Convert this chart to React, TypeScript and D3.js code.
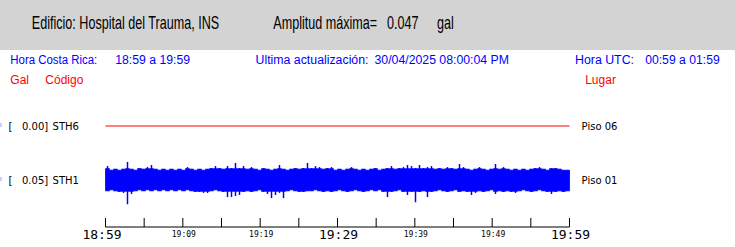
import React from "react";
import * as d3 from "d3";

// ---- data ----
const stations = ["STH6", "STH1"];
const stationGal = ["0.00", "0.05"];
const stationPlace = ["Piso 06", "Piso 01"];
const tickLabels = ["18:59", "19:09", "19:19", "19:29", "19:39", "19:49", "19:59"];
const bigLabels = ["18:59", "19:29", "19:59"];
const startTime = new Date(2025, 3, 30, 18, 59, 0);
const endTime = new Date(2025, 3, 30, 19, 59, 0);
const tickStepMinutes = 5;

// STH6 trace (flat, gal)
const sth6Values = [0, 0];

// STH1 envelope, 116 bins over the hour (gal): upper and lower extremes
const sth1Max = [
  0.027, 0.019, 0.021, 0.019, 0.021, 0.035, 0.021, 0.019, 0.023, 0.021,
  0.025, 0.029, 0.021, 0.019, 0.021, 0.019, 0.021, 0.019, 0.021, 0.019,
  0.025, 0.021, 0.019, 0.021, 0.019, 0.021, 0.023, 0.027, 0.023, 0.021,
  0.027, 0.023, 0.033, 0.023, 0.027, 0.021, 0.025, 0.021, 0.019, 0.023,
  0.021, 0.019, 0.021, 0.029, 0.021, 0.019, 0.021, 0.023, 0.021, 0.023,
  0.033, 0.023, 0.027, 0.025, 0.021, 0.023, 0.025, 0.019, 0.021, 0.019,
  0.021, 0.025, 0.021, 0.019, 0.021, 0.019, 0.021, 0.023, 0.019, 0.021,
  0.023, 0.027, 0.021, 0.023, 0.025, 0.029, 0.027, 0.023, 0.029, 0.023,
  0.025, 0.027, 0.021, 0.023, 0.021, 0.025, 0.023, 0.021, 0.031, 0.025,
  0.021, 0.019, 0.021, 0.025, 0.021, 0.019, 0.021, 0.031, 0.021, 0.025,
  0.021, 0.019, 0.021, 0.019, 0.021, 0.019, 0.021, 0.023, 0.025, 0.021,
  0.019, 0.023, 0.023, 0.021, 0.019, 0.019,
];
const sth1Min = [
  -0.021, -0.019, -0.021, -0.023, -0.025, -0.047, -0.027, -0.021, -0.019, -0.021,
  -0.019, -0.021, -0.019, -0.021, -0.019, -0.021, -0.019, -0.021, -0.019, -0.021,
  -0.019, -0.021, -0.023, -0.023, -0.025, -0.025, -0.021, -0.019, -0.021, -0.023,
  -0.033, -0.033, -0.031, -0.029, -0.023, -0.021, -0.023, -0.021, -0.019, -0.023,
  -0.027, -0.035, -0.029, -0.025, -0.035, -0.021, -0.019, -0.021, -0.023, -0.023,
  -0.021, -0.021, -0.019, -0.021, -0.023, -0.021, -0.023, -0.021, -0.019, -0.021,
  -0.023, -0.021, -0.019, -0.021, -0.023, -0.021, -0.019, -0.021, -0.019, -0.023,
  -0.033, -0.023, -0.021, -0.019, -0.023, -0.029, -0.023, -0.043, -0.023, -0.021,
  -0.033, -0.023, -0.021, -0.019, -0.021, -0.023, -0.021, -0.019, -0.023, -0.021,
  -0.023, -0.029, -0.025, -0.021, -0.023, -0.021, -0.019, -0.027, -0.021, -0.023,
  -0.021, -0.023, -0.025, -0.021, -0.019, -0.021, -0.023, -0.021, -0.019, -0.021,
  -0.023, -0.027, -0.023, -0.021, -0.023, -0.021,
];
const maxAmplitude = 0.047;
const bandLimit = 0.022; // dense band level; excursions beyond drawn as thin spikes

const SANS = "'Liberation Sans', Arial, Helvetica, sans-serif";
const DEJA = "'DejaVu Sans', sans-serif";
const MONO = "'DejaVu Sans Mono', monospace";

export default function App() {
  const W = 735;
  const H = 247;
  const x = d3.scaleTime().domain([startTime, endTime]).range([105.5, 569.5]);
  const rowY = [126, 180];
  const yScales = rowY.map((c) =>
    d3.scaleLinear().domain([-maxAmplitude, maxAmplitude]).range([c + 24.3, c - 24.3])
  );

  const nBins = sth1Max.length;
  const binMs = (endTime.getTime() - startTime.getTime()) / nBins;
  const binData = d3.range(nBins + 1).map((i) => ({
    t: new Date(startTime.getTime() + i * binMs),
    tc: new Date(startTime.getTime() + (i + 0.5) * binMs),
    hi: sth1Max[Math.min(i, nBins - 1)],
    lo: sth1Min[Math.min(i, nBins - 1)],
  }));
  const band = d3
    .area<any>()
    .x((d) => x(d.t))
    .y0((d) => yScales[1](Math.max(d.lo, -bandLimit)))
    .y1((d) => yScales[1](Math.min(d.hi, bandLimit)))
    .curve(d3.curveStepAfter);

  const flatData = sth6Values.map((v, i) => ({
    t: new Date(startTime.getTime() + (i * (endTime.getTime() - startTime.getTime())) / (sth6Values.length - 1)),
    v,
  }));
  const flatLine = d3
    .line<any>()
    .x((d) => x(d.t))
    .y((d) => yScales[0](d.v));

  const nTicks = Math.round((endTime.getTime() - startTime.getTime()) / (tickStepMinutes * 60000));
  const ticks = d3.range(nTicks + 1).map((i) => new Date(startTime.getTime() + i * tickStepMinutes * 60000));
  const axisY = 227;
  const hs = 0.7; // horizontal compression of the header font

  return (
    <svg
      width={W}
      height={H}
      style={{ position: "absolute", left: 0, top: 0, background: "#fff" }}
    >
      <rect x={0} y={0} width={W} height={50} fill="#d3d3d3" />
      <g fontFamily={SANS} fontSize={18} fill="#000" transform={`scale(${hs},1)`}>
        <text x={31.8 / hs} y={29.3}>Edificio: Hospital del Trauma, INS</text>
        <text x={273.3 / hs} y={29.3}>Amplitud máxima=</text>
        <text x={387 / hs} y={29.3}>{maxAmplitude.toFixed(3)}</text>
        <text x={437 / hs} y={29.3}>gal</text>
      </g>

      <g fontFamily={SANS} fontSize={12} fill="#0000ff">
        <text x={10.3} y={64.3} textLength={87} lengthAdjust="spacingAndGlyphs">Hora Costa Rica:</text>
        <text x={115.2} y={64.3} textLength={74.8} lengthAdjust="spacingAndGlyphs">18:59 a 19:59</text>
        <text x={255.5} y={64.3} textLength={113} lengthAdjust="spacingAndGlyphs">Ultima actualización:</text>
        <text x={374.5} y={64.3} textLength={134.5} lengthAdjust="spacingAndGlyphs">30/04/2025 08:00:04 PM</text>
        <text x={575} y={64.3} textLength={59} lengthAdjust="spacingAndGlyphs">Hora UTC:</text>
        <text x={645.2} y={64.3} textLength={74.5} lengthAdjust="spacingAndGlyphs">00:59 a 01:59</text>
      </g>

      <g fontFamily={SANS} fontSize={12} fill="#ff0000">
        <text x={10.3} y={84}>Gal</text>
        <text x={45.3} y={84}>Código</text>
        <text x={585.2} y={84}>Lugar</text>
      </g>

      {stations.map((s, i) => (
        <g key={s} fontFamily={DEJA} fontSize={10} fill="#000">
          <rect x={0} y={rowY[i] - 2.5} width={2} height={1} fill="#a0a0ff" />
          <rect x={0} y={rowY[i] - 0.5} width={2} height={1} fill="#a0a0ff" />
          <text x={8.6} y={rowY[i] + 3.5}>[</text>
          <text x={22} y={rowY[i] + 3.5}>{stationGal[i]}]</text>
          <text x={52.6} y={rowY[i] + 3.5}>{s}</text>
          <text x={581.6} y={rowY[i] + 3.5}>{stationPlace[i]}</text>
        </g>
      ))}

      <path d={flatLine(flatData) || ""} fill="none" stroke="#ff0000" strokeWidth={1.2} />
      <path d={band(binData) || ""} fill="#0000ff" stroke="#0000ff" strokeWidth={0.8} />
      {binData.slice(0, nBins).map((d, i) => (
        <line
          key={i}
          x1={x(d.tc)}
          x2={x(d.tc)}
          y1={yScales[1](d.lo)}
          y2={yScales[1](d.hi)}
          stroke="#0000ff"
          strokeWidth={1.5}
        />
      ))}

      <line x1={x(startTime)} x2={x(endTime)} y1={axisY} y2={axisY} stroke="#000" strokeWidth={1} />
      {ticks.map((t, i) => (
        <line key={i} x1={x(t)} x2={x(t)} y1={axisY} y2={axisY - 9} stroke="#000" strokeWidth={1} />
      ))}
      {tickLabels.map((lab, i) => {
        const t = ticks[i * 2];
        const big = bigLabels.includes(lab);
        const dx = i === 0 ? -3.5 : 1;
        return (
          <text
            key={lab}
            x={x(t) + dx}
            y={big ? 239.3 : 236.7}
            textAnchor="middle"
            fontFamily={MONO}
            fontSize={big ? 13 : 8}
            fill="#000"
          >
            {lab}
          </text>
        );
      })}
    </svg>
  );
}
